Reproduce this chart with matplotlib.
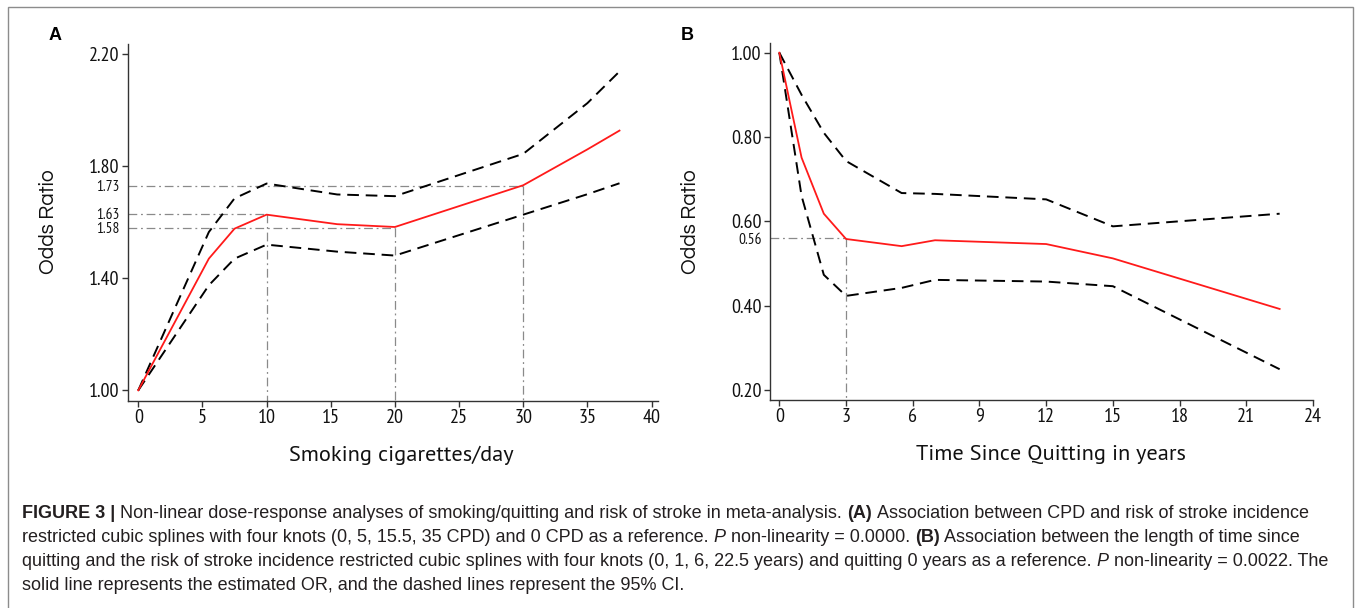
import matplotlib
matplotlib.use('Agg')
import matplotlib.pyplot as plt
from matplotlib.patches import Rectangle

# panel A: cigarettes per day
cpd = [0, 5.5, 7.5, 10, 15.5, 20, 30, 35, 37.5]
cpd_or = [1.0, 1.47, 1.577, 1.627, 1.593, 1.583, 1.732, 1.86, 1.927]
cpd_hi = [1.0, 1.565, 1.685, 1.738, 1.699, 1.693, 1.844, 2.025, 2.138]
cpd_lo = [1.0, 1.375, 1.470, 1.520, 1.495, 1.481, 1.627, 1.70, 1.739]
cpd_marks = [(10, 1.63), (20, 1.58), (30, 1.73)]

# panel B: years since quitting
years = [0, 1, 2, 3, 5.5, 7, 12, 15, 22.5]
quit_or = [1.0, 0.751, 0.618, 0.558, 0.541, 0.555, 0.546, 0.512, 0.392]
quit_hi = [1.0, 0.90, 0.81, 0.743, 0.667, 0.665, 0.652, 0.588, 0.618]
quit_lo = [1.0, 0.66, 0.473, 0.423, 0.442, 0.461, 0.457, 0.446, 0.249]
quit_marks = [(3, 0.56)]

caption = [
    [("FIGURE 3 |", "bold", "normal"),
     ("Non-linear dose-response analyses of smoking/quitting and risk of stroke in meta-analysis.", "normal", "normal"),
     ("(A)", "bold", "normal"),
     ("Association between CPD and risk of stroke incidence", "normal", "normal")],
    [("restricted cubic splines with four knots (0, 5, 15.5, 35 CPD) and 0 CPD as a reference.", "normal", "normal"),
     ("P", "normal", "italic"),
     ("non-linearity = 0.0000.", "normal", "normal"),
     ("(B)", "bold", "normal"),
     ("Association between the length of time since", "normal", "normal")],
    [("quitting and the risk of stroke incidence restricted cubic splines with four knots (0, 1, 6, 22.5 years) and quitting 0 years as a reference.", "normal", "normal"),
     ("P", "normal", "italic"),
     ("non-linearity = 0.0022. The", "normal", "normal")],
    [("solid line represents the estimated OR, and the dashed lines represent the 95% CI.", "normal", "normal")],
]

W, H = 1357, 608
fig = plt.figure(figsize=(W / 100, H / 100), dpi=100)

tickfont = ['PT Sans Narrow', 'Roboto Condensed', 'Archivo Narrow', 'DejaVu Sans']
xlabfont = ['PT Sans', 'Open Sans', 'DejaVu Sans']
ylabfont = ['Questrial', 'DejaVu Sans']
capfont = ['Liberation Sans', 'DejaVu Sans']


def px_axes(l, t, r, b):
    return fig.add_axes([l / W, 1 - b / H, (r - l) / W, (b - t) / H])


def style(ax):
    for s in ['top', 'right']:
        ax.spines[s].set_visible(False)
    for s in ['left', 'bottom']:
        ax.spines[s].set_color('#333333')
        ax.spines[s].set_linewidth(1.0)
    ax.tick_params(which='major', length=4, width=1.0, color='#333333', pad=2,
                   labelsize=14.5, labelfontfamily=tickfont, labelcolor='#111111')


def draw(ax, x, est, hi, lo, marks):
    ax.plot(x, hi, color='black', lw=1.4, dashes=(6, 3.5))
    ax.plot(x, lo, color='black', lw=1.4, dashes=(6, 3.5))
    ax.plot(x, est, color='#ff1a1a', lw=1.3)
    x0 = ax.get_xlim()[0]
    y0 = ax.get_ylim()[0]
    for mx, my in marks:
        ax.plot([x0, mx], [my, my], color='#8a8a8a', lw=0.9, dashes=(7, 3, 1.5, 3), zorder=0)
        ax.plot([mx, mx], [my, y0], color='#8a8a8a', lw=0.9, dashes=(7, 3, 1.5, 3), zorder=0)
    ax.set_yticks([m[1] for m in marks], labels=['%.2f' % m[1] for m in marks], minor=True)
    ax.tick_params(which='minor', length=0, pad=6, labelsize=11, labelfontfamily=tickfont,
                   labelcolor='#111111')


# panel A
axA = px_axes(128, 44, 658, 401)
style(axA)
axA.set_xlim(-0.8, 40.5)
axA.set_ylim(0.962, 2.236)
axA.set_xticks(range(0, 41, 5))
axA.set_yticks([1.0, 1.4, 1.8, 2.2], labels=['1.00', '1.40', '1.80', '2.20'])
draw(axA, cpd, cpd_or, cpd_hi, cpd_lo, cpd_marks)

# panel B
axB = px_axes(770, 43, 1313, 400)
style(axB)
axB.set_xlim(-0.42, 24)
axB.set_ylim(0.176, 1.023)
axB.set_xticks(range(0, 25, 3))
axB.set_yticks([0.2, 0.4, 0.6, 0.8, 1.0], labels=['0.20', '0.40', '0.60', '0.80', '1.00'])
draw(axB, years, quit_or, quit_hi, quit_lo, quit_marks)

# axis titles
fig.text(49 / W, 1 - 222 / H, 'Odds Ratio', rotation=90, ha='center', va='center',
         fontsize=15, family=ylabfont, color='#111111')
fig.text(690 / W, 1 - 222 / H, 'Odds Ratio', rotation=90, ha='center', va='center',
         fontsize=15, family=ylabfont, color='#111111')
fig.text(401 / W, 1 - 455 / H, 'Smoking cigarettes/day', ha='center', va='center',
         fontsize=16, family=xlabfont, color='#111111')
fig.text(1051 / W, 1 - 455 / H, 'Time Since Quitting in years', ha='center', va='center',
         fontsize=16, family=xlabfont, color='#111111')

# panel letters
fig.text(55 / W, 1 - 36 / H, 'A', ha='center', va='center', fontsize=13, weight='bold',
         family=capfont)
fig.text(687 / W, 1 - 36 / H, 'B', ha='center', va='center', fontsize=13, weight='bold',
         family=capfont)

# frame around figure
fig.patches.append(Rectangle((8 / W, -0.1), (1353 - 8) / W, 1.1 - 7 / H, transform=fig.transFigure,
                             fill=False, edgecolor='#8c8c8c', lw=1.0))

# caption, placed piece by piece
cap_size = 13
renderer = fig.canvas.get_renderer()
space = cap_size * 100 / 72 * 0.278
baseline = 518.5
for line in caption:
    xpos = 22
    for text, weight, fstyle in line:
        t = fig.text(xpos / W, 1 - baseline / H, text, ha='left', va='baseline', fontsize=cap_size,
                     weight=weight, style=fstyle, family=capfont, color='#231f20')
        bb = t.get_window_extent(renderer)
        xpos += bb.width + space
    baseline += 24

fig.savefig('out.png', dpi=100)
